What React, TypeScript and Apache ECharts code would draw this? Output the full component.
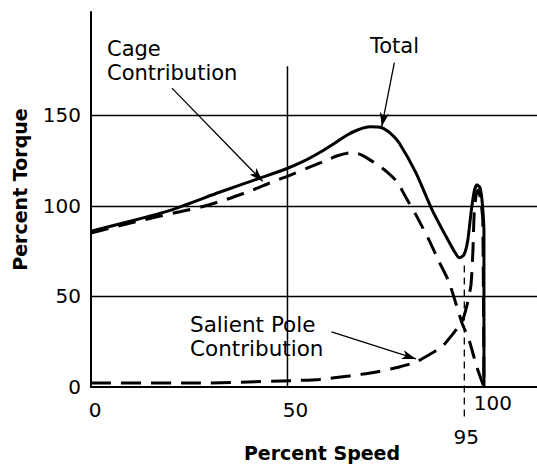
import React, { useEffect, useRef } from "react";
import * as echarts from "echarts";

// Percent speed (x) vs percent torque (y)
const totalCurve: [number, number][] = [
  [0, 86], [10, 91.5], [20.1, 97.5], [32.7, 107.5], [43, 115.3], [49.4, 120.2],
  [54, 124.5], [58.3, 129.6], [62, 134.6], [65.1, 139], [68, 142], [71, 143.6],
  [74, 143.1], [76.5, 139.5], [78.4, 134.8], [82.7, 118.2], [86.8, 97.8],
  [90.4, 82.9], [92.4, 75.1], [93.7, 71.3], [94.9, 72.9], [95.9, 81.2],
  [96.7, 96], [97.5, 107.7], [98.2, 111.6], [99, 110], [99.6, 101], [100, 85],
  [100, 0],
];
const cageCurve: [number, number][] = [
  [0, 85], [10, 90.5], [16.8, 94], [22.6, 96.7], [28.5, 99.6], [35.4, 104.2],
  [41.8, 109.3], [45.5, 112.6], [50.6, 116.8], [55, 120.8], [59.1, 124.4],
  [62.5, 127.5], [65.9, 129.3], [68, 128.8], [70.2, 126.5], [73, 122.5],
  [75.3, 118.8], [77.9, 113.3], [80.2, 104.4], [82.7, 95], [86, 81.2],
  [88.6, 69.1], [91.1, 58], [94.4, 35.4], [96.2, 26], [98.2, 11], [100, 0],
];
const salientCurve: [number, number][] = [
  [0, 2.2], [27.7, 2.2], [52.3, 3.6], [58.1, 4.2], [65.7, 6.1], [72.6, 8.3],
  [78.4, 11], [82.7, 13.8], [86.8, 18.8], [89.3, 22.1], [92.9, 31.5],
  [94.4, 35.9], [95.7, 45.3], [96.7, 56.4], [97.2, 75.7], [97.5, 95],
  [98, 106], [98.5, 108.8], [99.2, 103], [99.7, 92], [100, 0],
];

const gridValues = [50, 100, 150];
const xTickLabels = [0, 50, 95, 100];
const yTickLabels = [0, 50, 100, 150];
const speedLine50: [number, number][] = [[50, 177], [50, 0]];
const speedLine95: [number, number][] = [[95, 67], [95, -17]];

const arrowCage: [number, number][] = [[20.6, 165], [43.7, 113.5]];
const arrowTotal: [number, number][] = [[77.2, 179], [74.0, 143.8]];
const arrowSalient: [number, number][] = [[61.2, 30.4], [82.7, 15.5]];

const FONT = "DejaVu Sans";

export default function App() {
  const ref = useRef<HTMLDivElement>(null);
  useEffect(() => {
    document.body.style.margin = "0";
    if (!ref.current) return;
    const chart = echarts.init(ref.current, null, { renderer: "svg" });
    const black = "#000";
    const tokenStyle = { fontSize: 20, fontFamily: FONT, color: black };
    const option: any = {
      animation: false,
      backgroundColor: "#fff",
      grid: { left: 91, right: 0, top: 12, bottom: 81, outerBoundsMode: "none" },
      xAxis: {
        type: "value",
        min: 0,
        max: 113.5,
        name: "Percent Speed",
        nameLocation: "middle",
        nameGap: 56,
        nameMoveOverlap: false,
        nameTextStyle: {
          fontSize: 19, fontWeight: "bold", fontFamily: FONT, color: black,
          padding: [0, 0, 0, 16],
        },
        axisLine: { lineStyle: { color: black, width: 2 } },
        axisTick: { show: false },
        splitLine: { show: false },
        axisLabel: {
          customValues: xTickLabels,
          margin: 6,
          formatter: (v: number) =>
            v === 95 ? "{d|95}" : v === 0 ? "{a|0}" : v === 50 ? "{b|50}" : "{c|100}",
          rich: {
            a: { ...tokenStyle, padding: [7, 0, 0, 8] },
            b: { ...tokenStyle, padding: [7, 0, 0, 16] },
            c: { ...tokenStyle, padding: [0, 0, 0, 18] },
            d: { ...tokenStyle, padding: [34, 0, 0, 4] },
          },
        },
      },
      yAxis: {
        type: "value",
        min: 0,
        max: 207,
        name: "Percent Torque",
        nameLocation: "middle",
        nameGap: 62,
        nameMoveOverlap: false,
        nameTextStyle: {
          fontSize: 19, fontWeight: "bold", fontFamily: FONT, color: black,
          padding: [0, 0, 0, 20],
        },
        axisLine: { show: true, lineStyle: { color: black, width: 2 } },
        axisTick: { show: false },
        splitLine: { show: false },
        axisLabel: {
          customValues: yTickLabels,
          margin: 10,
          fontSize: 20,
          fontFamily: FONT,
          color: black,
        },
      },
      graphic: [
        { type: "text", x: 107, y: 37, style: { text: "Cage\nContribution", fontSize: 21, fontFamily: FONT, fill: black, lineHeight: 24 } },
        { type: "text", x: 370, y: 35, style: { text: "Total", fontSize: 21, fontFamily: FONT, fill: black } },
        { type: "text", x: 190, y: 312, style: { text: "Salient Pole\nContribution", fontSize: 21.5, fontFamily: FONT, fill: black, lineHeight: 24 } },
      ],
      series: [
        {
          name: "Total",
          type: "line",
          data: totalCurve,
          showSymbol: false,
          smooth: 0.2,
          lineStyle: { color: black, width: 3 },
          z: 5,
          markLine: {
            silent: true,
            symbol: ["none", "arrow"],
            symbolSize: [7, 14],
            label: { show: false },
            lineStyle: { color: black, width: 1.3, type: "solid" },
            data: [arrowCage, arrowTotal, arrowSalient].map((a) => [
              { coord: a[0] },
              { coord: a[1] },
            ]),
          },
        },
        {
          name: "Cage",
          type: "line",
          data: cageCurve,
          showSymbol: false,
          smooth: 0.2,
          lineStyle: { color: black, width: 3, type: [18, 10] },
          z: 4,
          markLine: {
            silent: true,
            symbol: ["none", "none"],
            label: { show: false },
            lineStyle: { color: black, width: 1.3, type: "solid" },
            data: gridValues.map((v) => ({ yAxis: v })),
          },
        },
        {
          name: "Salient Pole",
          type: "line",
          data: salientCurve,
          showSymbol: false,
          smooth: 0.2,
          lineStyle: { color: black, width: 3, type: [20, 10] },
          z: 4,
        },
        {
          name: "50",
          type: "line",
          data: speedLine50,
          showSymbol: false,
          lineStyle: { color: black, width: 1.5 },
          z: 2,
        },
        {
          name: "95",
          type: "line",
          data: speedLine95,
          showSymbol: false,
          clip: false,
          lineStyle: { color: black, width: 1.3, type: [7, 5] },
          z: 2,
        },
      ],
    };
    chart.setOption(option);
    return () => chart.dispose();
  }, []);
  return <div ref={ref} style={{ width: 537, height: 468 }} />;
}
